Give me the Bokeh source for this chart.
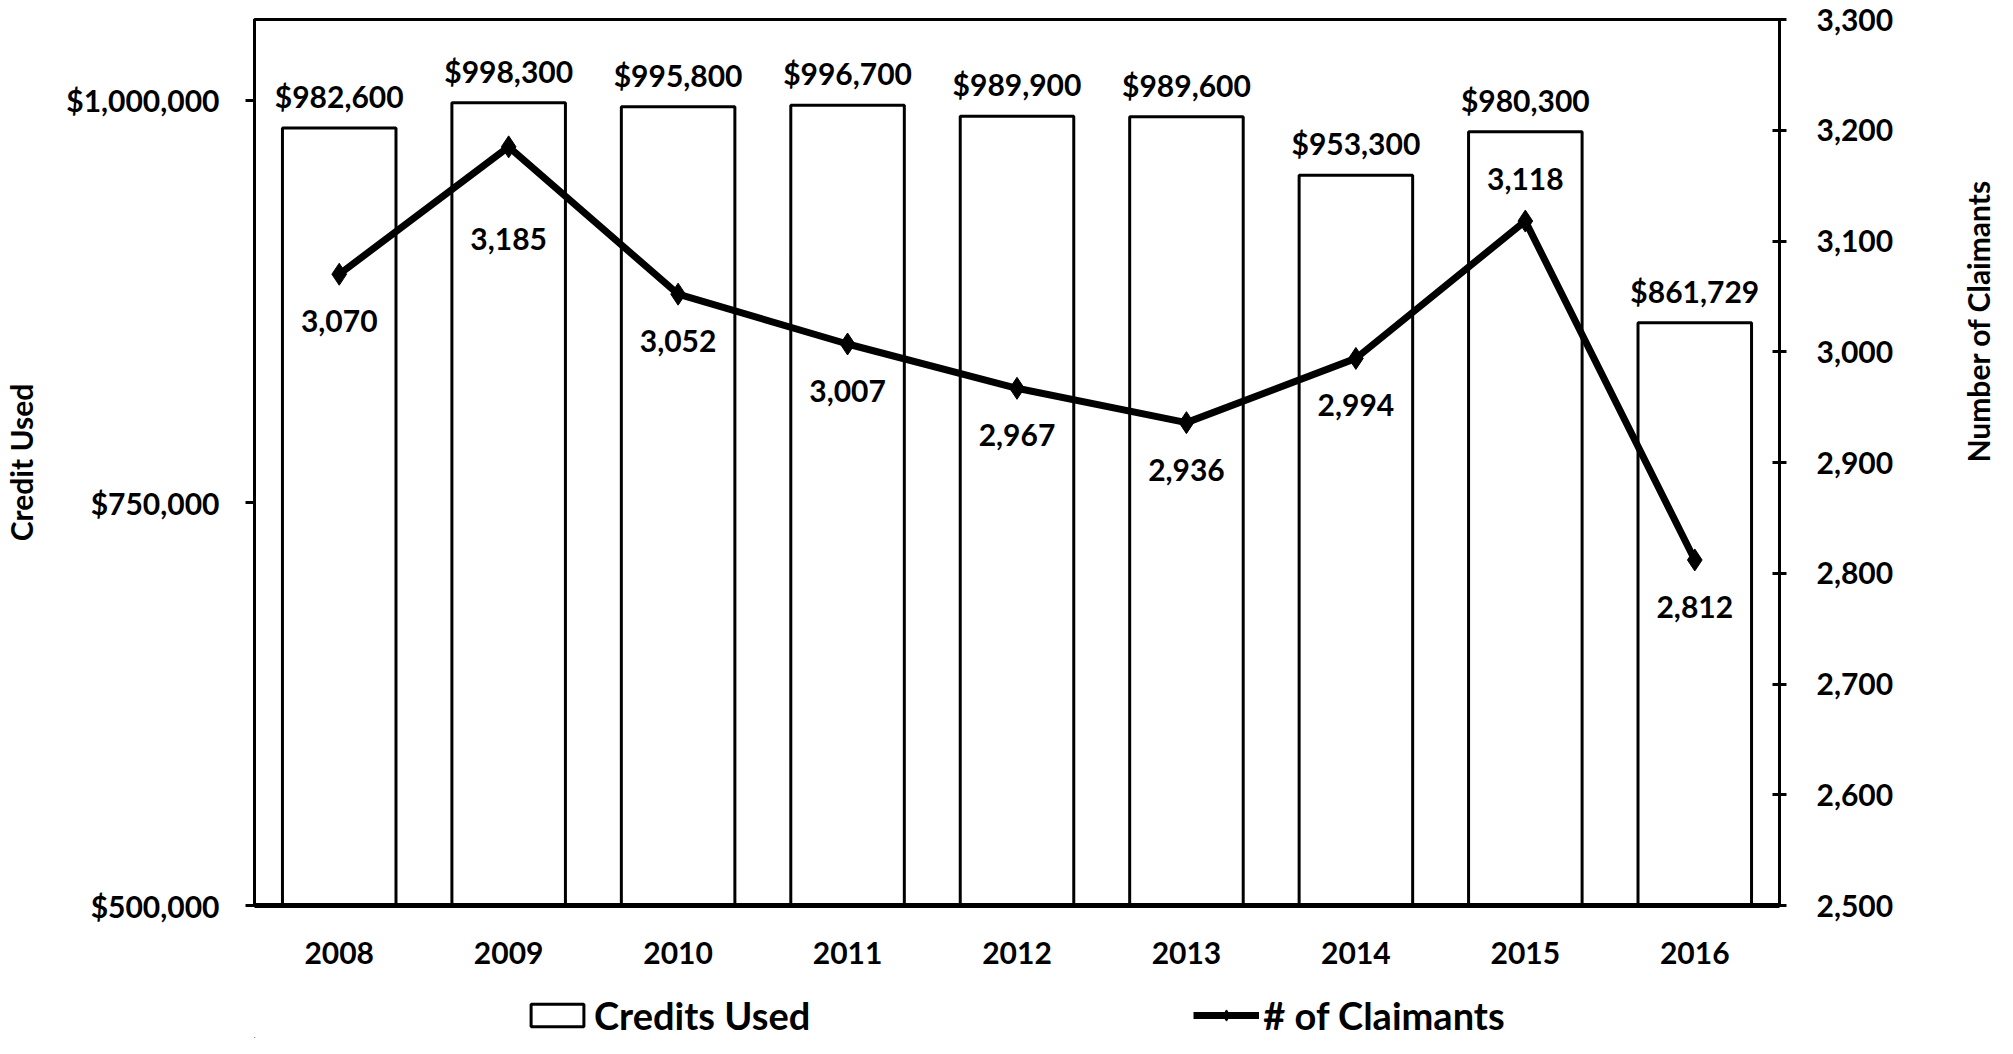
import math
from bokeh.plotting import figure
from bokeh.layouts import column
from bokeh.models import (Range1d, LinearAxis, NumeralTickFormatter, FactorRange,
                          Legend, LegendItem, ColumnDataSource, FixedTicker)
from bokeh.embed import file_html
from bokeh.resources import INLINE
from bokeh.core.properties import value

years = ["2008", "2009", "2010", "2011", "2012", "2013", "2014", "2015", "2016"]
credits_used = [982600, 998300, 995800, 996700, 989900, 989600, 953300, 980300, 861729]
claimants = [3070, 3185, 3052, 3007, 2967, 2936, 2994, 3118, 2812]
left_ticks = [500000, 750000, 1000000]
right_ticks = [2500, 2600, 2700, 2800, 2900, 3000, 3100, 3200, 3300]
legend_labels = ["Credits Used", "# of Claimants"]

# label placement (screen px, positive = down)
claim_label_offsets = [47, 92, 47, 47, 47, 47, 47, -42, 47]

FONT = "Lato"
FS = "30px"

src = ColumnDataSource(dict(
    year=years,
    credit=credits_used,
    claims=claimants,
    credit_label=["${:,}".format(v) for v in credits_used],
    claim_label=["{:,}".format(v) for v in claimants],
    claim_off=claim_label_offsets,
))

p = figure(x_range=FactorRange(*years), y_range=Range1d(500000, 1050000),
           frame_width=1525, frame_height=886, output_backend="svg",
           toolbar_location=None,
           min_border_left=245, min_border_right=220, min_border_top=19,
           min_border_bottom=80)
p.extra_y_ranges = {"claims": Range1d(2500, 3300)}

p.xgrid.visible = False
p.ygrid.visible = False
p.outline_line_color = "black"
p.outline_line_width = 3
p.background_fill_color = "white"
p.border_fill_color = "white"

# left axis
ya = p.yaxis[0]
ya.ticker = FixedTicker(ticks=left_ticks)
ya.formatter = NumeralTickFormatter(format="$0,0")
ya.axis_label = "Credit Used"
ya.axis_line_width = 3
ya.major_tick_line_width = 3
ya.major_tick_out = 9
ya.major_tick_in = 0
ya.minor_tick_line_color = None
ya.major_label_standoff = 26
ya.axis_label_standoff = 24

# right axis
ra = LinearAxis(y_range_name="claims", ticker=FixedTicker(ticks=right_ticks),
                formatter=NumeralTickFormatter(format="0,0"),
                axis_label="Number of Claimants")
ra.axis_line_width = 3
ra.major_tick_line_width = 3
ra.major_tick_out = 7
ra.major_tick_in = 7
ra.minor_tick_line_color = None
ra.major_label_standoff = 30
ra.axis_label_standoff = 82
ra.axis_label_orientation = math.pi / 2
ra.axis_label_text_align = "center"
p.add_layout(ra, "right")

xa = p.xaxis[0]
xa.axis_line_width = 5
xa.minor_tick_line_color = None
xa.major_label_standoff = 30

for ax in (ya, ra, xa):
    ax.major_label_text_font = FONT
    ax.major_label_text_font_style = "bold"
    ax.major_label_text_font_size = FS
    ax.major_label_text_color = "black"
    ax.axis_label_text_font = FONT
    ax.axis_label_text_font_style = "bold"
    ax.axis_label_text_font_size = FS
    ax.axis_label_text_color = "black"
    ax.axis_line_color = "black"
xa.major_tick_line_color = None

p.vbar(x="year", top="credit", bottom=500000, width=0.67, source=src,
       fill_color="white", line_color="black", line_width=3)
p.line(x="year", y="claims", source=src, y_range_name="claims",
       line_color="black", line_width=7)
p.scatter(x="year", y="claims", source=src, y_range_name="claims",
          marker="diamond", size=22, fill_color="black", line_color="black")

p.text(x="year", y="credit", text="credit_label", source=src, y_offset=-32,
       text_align="center", text_baseline="middle", text_font=value(FONT),
       text_font_style="bold", text_font_size=FS, text_color="black")
p.text(x="year", y="claims", text="claim_label", source=src, y_range_name="claims",
       y_offset="claim_off", text_align="center", text_baseline="middle",
       text_font=value(FONT), text_font_style="bold", text_font_size=FS,
       text_color="black")

# legend strip below the chart (proxy glyphs sit outside the visible range)
lg = figure(width=1997, height=53, output_backend="svg", toolbar_location=None,
            x_axis_type=None, y_axis_type=None, min_border=0,
            x_range=Range1d(0, 1), y_range=Range1d(0, 1))
lg.xgrid.visible = False
lg.ygrid.visible = False
lg.outline_line_color = None
proxy = ColumnDataSource(dict(x=[-5], y=[-5]))
lb = lg.vbar(x="x", top="y", width=0.5, source=proxy,
             fill_color="white", line_color="black", line_width=3)
ll = lg.line(x="x", y="y", source=proxy, line_color="black", line_width=7)
lm = lg.scatter(x="x", y="y", source=proxy, marker="diamond", size=22,
                fill_color="black", line_color="black")

legend = Legend(items=[LegendItem(label=legend_labels[0], renderers=[lb]),
                       LegendItem(label=legend_labels[1], renderers=[ll, lm])],
                orientation="horizontal", location=(270, 0), spacing=383,
                label_text_font=FONT, label_text_font_style="bold",
                label_text_font_size="38px", label_text_color="black",
                glyph_width=66, glyph_height=28,
                label_standoff=4, padding=0, margin=0,
                border_line_color=None, background_fill_alpha=0)
lg.add_layout(legend, "center")

open("out.html", "w").write(file_html(column(p, lg, spacing=0), INLINE))
